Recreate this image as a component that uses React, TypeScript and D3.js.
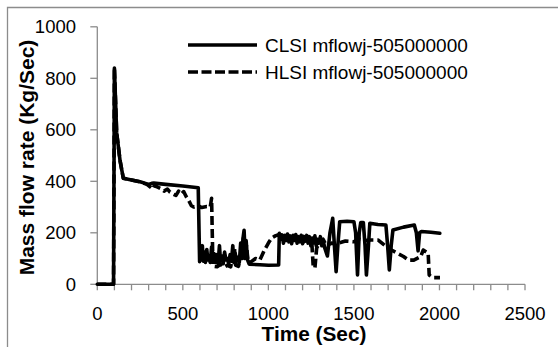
import React from "react";
import * as d3 from "d3";

const xTicks = [0, 500, 1000, 1500, 2000, 2500];
const yTicks = [0, 200, 400, 600, 800, 1000];
const seriesNames = ["CLSI mflowj-505000000", "HLSI mflowj-505000000"];

const clsiTime = [0, 95, 100, 113, 133, 152, 200, 250, 300, 318, 330, 400, 500, 590, 598,
  603, 608, 614, 620, 626, 632, 640, 646, 652, 660, 668, 674, 682, 690, 698, 706, 714, 720, 728, 736, 744, 752, 760, 768, 776, 784, 792, 798, 806, 814, 822, 830, 838, 846, 852, 858, 864, 870, 878, 888, 950, 1000, 1060, 1064,
  1072, 1080, 1088, 1096, 1104, 1112, 1120, 1128, 1136, 1144, 1152, 1160, 1168, 1176, 1184, 1192, 1200, 1208, 1216, 1224, 1232, 1240, 1248, 1256, 1264, 1272, 1280, 1288, 1296, 1304, 1312, 1320, 1330, 1345, 1360, 1376, 1386, 1396, 1406, 1417, 1460, 1500, 1510, 1521, 1531, 1540, 1555, 1565, 1573, 1585, 1593, 1640, 1687, 1697, 1707, 1718, 1728, 1790, 1853, 1865, 1875, 1884, 1895, 1950, 2002];
const clsiFlow = [0, 0, 840, 590, 480, 412, 405, 398, 388, 392, 393, 388, 382, 375, 88,
  140, 95, 150, 90, 125, 85, 135, 95, 110, 85, 145, 95, 120, 85, 115, 80, 150, 90, 110, 80, 125, 95, 100, 80, 115, 90, 150, 85, 120, 90, 105, 85, 160, 100, 180, 210, 120, 170, 95, 78, 76, 74, 75, 198,
  175, 192, 160, 190, 170, 195, 165, 188, 158, 190, 170, 193, 160, 185, 165, 190, 158, 186, 168, 190, 160, 185, 150, 180, 160, 188, 150, 175, 160, 185, 150, 170, 140, 110, 200, 256, 150, 49, 150, 243, 245, 243, 200, 36, 200, 240, 240, 150, 36, 150, 237, 232, 230, 150, 56, 150, 211, 222, 230, 200, 130, 200, 205, 202, 198];

const hlsiTime = [0, 95, 100, 113, 133, 152, 200, 250, 290, 310, 325, 335, 350, 370, 390, 410, 425, 445, 460, 475, 490, 505, 520, 535, 550, 565, 590, 610, 640, 660, 668, 672, 676, 700, 720, 740, 760, 780, 795, 802, 808, 825, 840, 850, 856, 862, 872, 882, 900, 925, 950, 975, 1000, 1020, 1040, 1056, 1080, 1110, 1140, 1170, 1200, 1230, 1255, 1262, 1272, 1282, 1300, 1320, 1340, 1370, 1400, 1450, 1500, 1525, 1560, 1600, 1642, 1700, 1750, 1790, 1820, 1850, 1890, 1905, 1934, 1940, 1960, 2003];
const hlsiFlow = [0, 0, 840, 590, 480, 412, 405, 398, 388, 378, 370, 385, 378, 372, 362, 370, 358, 350, 345, 362, 350, 360, 340, 325, 305, 300, 305, 298, 302, 300, 334, 200, 70, 68, 78, 66, 74, 68, 130, 140, 75, 70, 110, 160, 190, 100, 150, 85, 88, 100, 94, 130, 160, 180, 188, 192, 178, 188, 168, 185, 162, 180, 150, 70, 63, 140, 165, 175, 150, 160, 158, 168, 165, 176, 170, 172, 172, 140, 122, 108, 94, 94, 107, 133, 121, 36, 26, 26];

const minorStep = 100;

export default function App() {
  const x = d3.scaleLinear().domain([0, 2500]).range([97.3, 525]);
  const y = d3.scaleLinear().domain([0, 1000]).range([284.3, 26.8]);
  const line = d3.line<[number, number]>().x((d) => x(d[0])).y((d) => y(d[1]));
  const clsi = clsiTime.map((t, i) => [t, clsiFlow[i]] as [number, number]);
  const hlsi = hlsiTime.map((t, i) => [t, hlsiFlow[i]] as [number, number]);
  const minor = d3.range(0, 2500 + 1, minorStep);
  const axisColor = "#8c8c8c";
  const font = "'Liberation Sans', Arial, sans-serif";

  return (
    <svg width={558} height={347} style={{ position: "absolute", left: 0, top: 0, background: "#fff" }} fontFamily={font}>
      <rect x={0} y={0} width={558} height={347} fill="#fff" />
      <path d={`M7.5,347 V7.5 H558`} fill="none" stroke={axisColor} strokeWidth={1.3} />
      {/* y axis */}
      <line x1={x(0)} x2={x(0)} y1={y(0)} y2={y(1000)} stroke={axisColor} strokeWidth={1.3} />
      {yTicks.map((v) => (
        <g key={"y" + v}>
          <line x1={x(0) - 7} x2={x(0)} y1={y(v)} y2={y(v)} stroke={axisColor} strokeWidth={1.3} />
          <text x={76} y={y(v)} textAnchor="end" dominantBaseline="central" fontSize={18.5} fill="#000">{v}</text>
        </g>
      ))}
      {/* x axis */}
      <line x1={x(0)} x2={x(2500)} y1={y(0)} y2={y(0)} stroke={axisColor} strokeWidth={1.3} />
      {minor.map((t) => (
        <line key={"m" + t} x1={x(t)} x2={x(t)} y1={y(0)} y2={y(0) + 6} stroke={axisColor} strokeWidth={1.3} />
      ))}
      {xTicks.map((t) => (
        <text key={"x" + t} x={x(t)} y={319.5} textAnchor="middle" fontSize={18.5} fill="#000">{t}</text>
      ))}
      {/* titles */}
      <text x={314} y={340.5} textAnchor="middle" fontSize={20.8} fontWeight="bold" fill="#000">Time (Sec)</text>
      <text transform={`translate(34,157.5) rotate(-90)`} textAnchor="middle" fontSize={21} fontWeight="bold" fill="#000">Mass flow rate (Kg/Sec)</text>
      {/* series */}
      <path d={line(hlsi) || ""} fill="none" stroke="#000" strokeWidth={3.6} strokeDasharray="9,4" strokeLinejoin="round" />
      <path d={line(clsi) || ""} fill="none" stroke="#000" strokeWidth={3.6} strokeLinejoin="round" strokeLinecap="round" />
      {/* legend */}
      <line x1={188} x2={257} y1={45} y2={45} stroke="#000" strokeWidth={3.6} />
      <text x={265} y={45} dominantBaseline="central" fontSize={19} fill="#000">{seriesNames[0]}</text>
      <line x1={188} x2={257} y1={72} y2={72} stroke="#000" strokeWidth={3.6} strokeDasharray="10,3.5" />
      <text x={265} y={72} dominantBaseline="central" fontSize={19} fill="#000">{seriesNames[1]}</text>
    </svg>
  );
}
